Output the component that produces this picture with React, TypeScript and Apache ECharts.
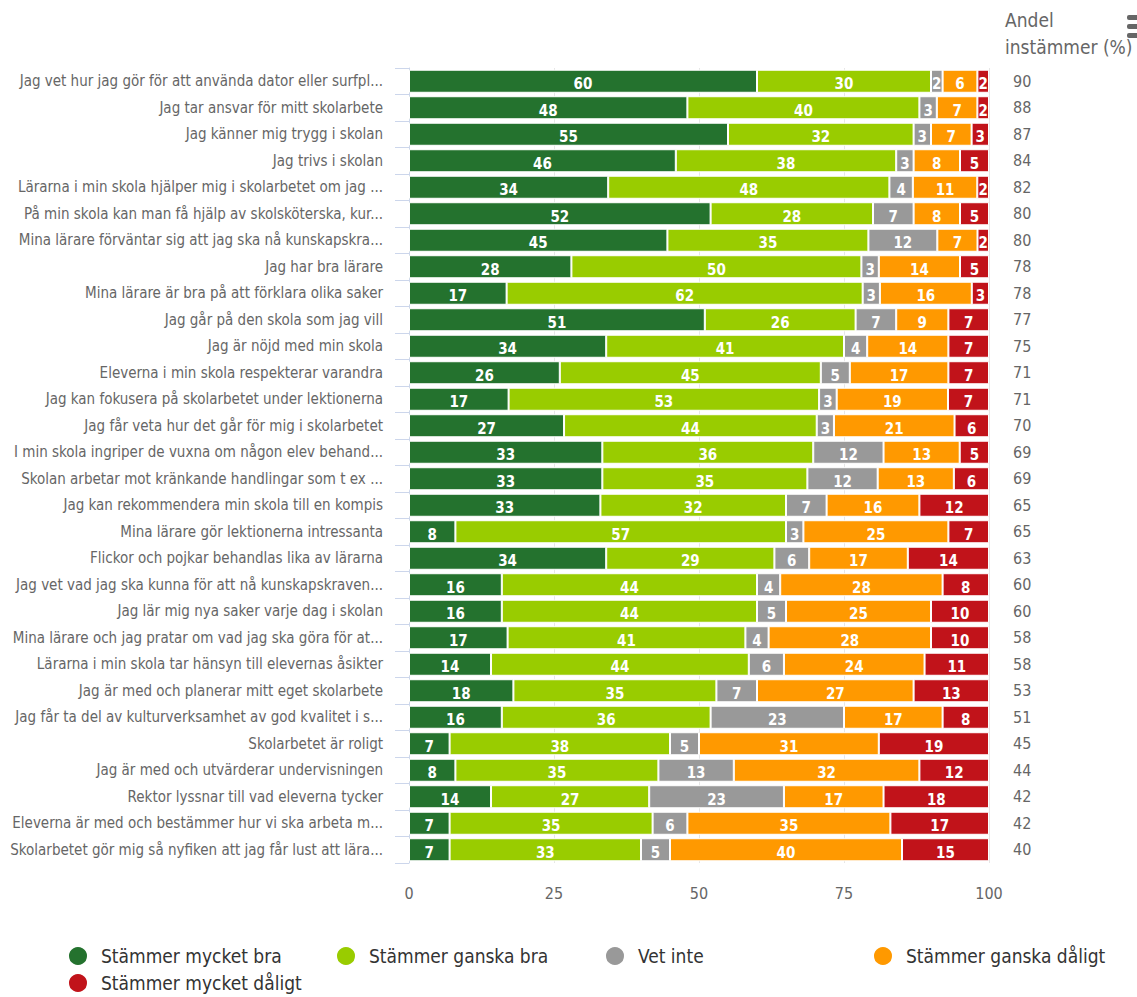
import React, { useEffect, useRef } from "react";
import * as echarts from "echarts";

const categories = [
  "Jag vet hur jag gör för att använda dator eller surfpl...",
  "Jag tar ansvar för mitt skolarbete",
  "Jag känner mig trygg i skolan",
  "Jag trivs i skolan",
  "Lärarna i min skola hjälper mig i skolarbetet om jag ...",
  "På min skola kan man få hjälp av skolsköterska, kur...",
  "Mina lärare förväntar sig att jag ska nå kunskapskra...",
  "Jag har bra lärare",
  "Mina lärare är bra på att förklara olika saker",
  "Jag går på den skola som jag vill",
  "Jag är nöjd med min skola",
  "Eleverna i min skola respekterar varandra",
  "Jag kan fokusera på skolarbetet under lektionerna",
  "Jag får veta hur det går för mig i skolarbetet",
  "I min skola ingriper de vuxna om någon elev behand...",
  "Skolan arbetar mot kränkande handlingar som t ex ...",
  "Jag kan rekommendera min skola till en kompis",
  "Mina lärare gör lektionerna intressanta",
  "Flickor och pojkar behandlas lika av lärarna",
  "Jag vet vad jag ska kunna för att nå kunskapskraven...",
  "Jag lär mig nya saker varje dag i skolan",
  "Mina lärare och jag pratar om vad jag ska göra för at...",
  "Lärarna i min skola tar hänsyn till elevernas åsikter",
  "Jag är med och planerar mitt eget skolarbete",
  "Jag får ta del av kulturverksamhet av god kvalitet i s...",
  "Skolarbetet är roligt",
  "Jag är med och utvärderar undervisningen",
  "Rektor lyssnar till vad eleverna tycker",
  "Eleverna är med och bestämmer hur vi ska arbeta m...",
  "Skolarbetet gör mig så nyfiken att jag får lust att lära...",
];

const mycketBra = [60, 48, 55, 46, 34, 52, 45, 28, 17, 51, 34, 26, 17, 27, 33, 33, 33, 8, 34, 16, 16, 17, 14, 18, 16, 7, 8, 14, 7, 7];
const ganskaBra = [30, 40, 32, 38, 48, 28, 35, 50, 62, 26, 41, 45, 53, 44, 36, 35, 32, 57, 29, 44, 44, 41, 44, 35, 36, 38, 35, 27, 35, 33];
const vetInte = [2, 3, 3, 3, 4, 7, 12, 3, 3, 7, 4, 5, 3, 3, 12, 12, 7, 3, 6, 4, 5, 4, 6, 7, 23, 5, 13, 23, 6, 5];
const ganskaDaligt = [6, 7, 7, 8, 11, 8, 7, 14, 16, 9, 14, 17, 19, 21, 13, 13, 16, 25, 17, 28, 25, 28, 24, 27, 17, 31, 32, 17, 35, 40];
const mycketDaligt = [2, 2, 3, 5, 2, 5, 2, 5, 3, 7, 7, 7, 7, 6, 5, 6, 12, 7, 14, 8, 10, 10, 11, 13, 8, 19, 12, 18, 17, 15];
const andelInstammer = [90, 88, 87, 84, 82, 80, 80, 78, 78, 77, 75, 71, 71, 70, 69, 69, 65, 65, 63, 60, 60, 58, 58, 53, 51, 45, 44, 42, 42, 40];

const seriesNames = [
  "Stämmer mycket bra",
  "Stämmer ganska bra",
  "Vet inte",
  "Stämmer ganska dåligt",
  "Stämmer mycket dåligt",
];
const seriesValues = [mycketBra, ganskaBra, vetInte, ganskaDaligt, mycketDaligt];
const colors = ["#24722e", "#99cc00", "#999999", "#ff9900", "#c1131a"];
const xTicks = [0, 25, 50, 75, 100];

const FONT = '"DejaVu Sans Condensed", "Liberation Sans Narrow", "Arial Narrow", sans-serif';

export default function App() {
  const ref = useRef<HTMLDivElement>(null);

  useEffect(() => {
    document.body.style.margin = "0";
    if (!ref.current) return;
    const chart = echarts.init(ref.current, undefined, { renderer: "svg" });

    const rowSums = categories.map((_, i) =>
      seriesValues.reduce((s, arr) => s + arr[i], 0)
    );

    const series = seriesValues.map((vals, si) => ({
      name: seriesNames[si],
      type: "bar",
      stack: "total",
      yAxisIndex: 0,
      barCategoryGap: "13%",
      data: vals.map((v, i) => (v / rowSums[i]) * 100),
      itemStyle: { color: colors[si], borderColor: "#ffffff", borderWidth: 1 },
      label: {
        show: true,
        position: "inside",
        color: "#ffffff",
        fontFamily: FONT,
        fontSize: 15,
        fontWeight: "bold",
        offset: [0, 3],
        formatter: (p: any) => String(vals[p.dataIndex]),
      },
      emphasis: { disabled: true },
    }));

    const legendLefts = [67, 335, 604, 872, 67];
    const legendTops = [945, 945, 945, 945, 972];
    const legends = seriesNames.map((n, i) => ({
      data: [n],
      left: legendLefts[i],
      top: legendTops[i],
      padding: 0,
      icon: "circle",
      itemWidth: 20,
      itemHeight: 20,
      selectedMode: false,
      textStyle: {
        fontFamily: FONT,
        fontSize: 19,
        color: "#333333",
        padding: [0, 0, 0, 8],
      },
    }));

    chart.setOption({
      animation: false,
      textStyle: { fontFamily: FONT },
      color: colors,
      title: {
        text: "Andel\ninstämmer (%)",
        left: 1005,
        top: 6,
        padding: 0,
        textStyle: {
          fontFamily: FONT,
          fontSize: 19,
          fontWeight: "normal",
          color: "#666666",
          lineHeight: 27,
        },
      },
      legend: legends,
      grid: {
        left: 409,
        right: 148,
        top: 68,
        bottom: 134,
        containLabel: false,
        outerBoundsMode: "none",
      },
      xAxis: {
        type: "value",
        min: 0,
        max: 100,
        interval: 25,
        axisLine: { show: false },
        axisTick: { show: false },
        splitLine: { show: true, lineStyle: { color: "#e6e6e6", width: 1 } },
        axisLabel: {
          color: "#666666",
          fontSize: 16,
          fontFamily: FONT,
          margin: 22,
          formatter: (v: number) => (xTicks.includes(v) ? String(v) : ""),
        },
      },
      yAxis: [
        {
          type: "category",
          inverse: true,
          data: categories,
          axisLine: { show: true, lineStyle: { color: "#ccd6eb" } },
          axisTick: { show: true, length: 14, lineStyle: { color: "#ccd6eb" } },
          axisLabel: {
            color: "#666666",
            fontSize: 15,
            fontFamily: FONT,
            margin: 26,
          },
        },
        {
          type: "category",
          inverse: true,
          position: "right",
          data: andelInstammer.map(String),
          axisLine: { show: false },
          axisTick: { show: false },
          axisLabel: {
            color: "#666666",
            fontSize: 16,
            fontFamily: FONT,
            margin: 24,
          },
        },
      ],
      graphic: [
        { type: "rect", shape: { x: 1127, y: 15, width: 14, height: 5, r: 2 }, style: { fill: "#666666" } },
        { type: "rect", shape: { x: 1127, y: 24, width: 14, height: 5, r: 2 }, style: { fill: "#666666" } },
        { type: "rect", shape: { x: 1127, y: 33, width: 14, height: 5, r: 2 }, style: { fill: "#666666" } },
      ],
      series,
    });

    return () => chart.dispose();
  }, []);

  return <div ref={ref} style={{ width: 1137, height: 997 }} />;
}
